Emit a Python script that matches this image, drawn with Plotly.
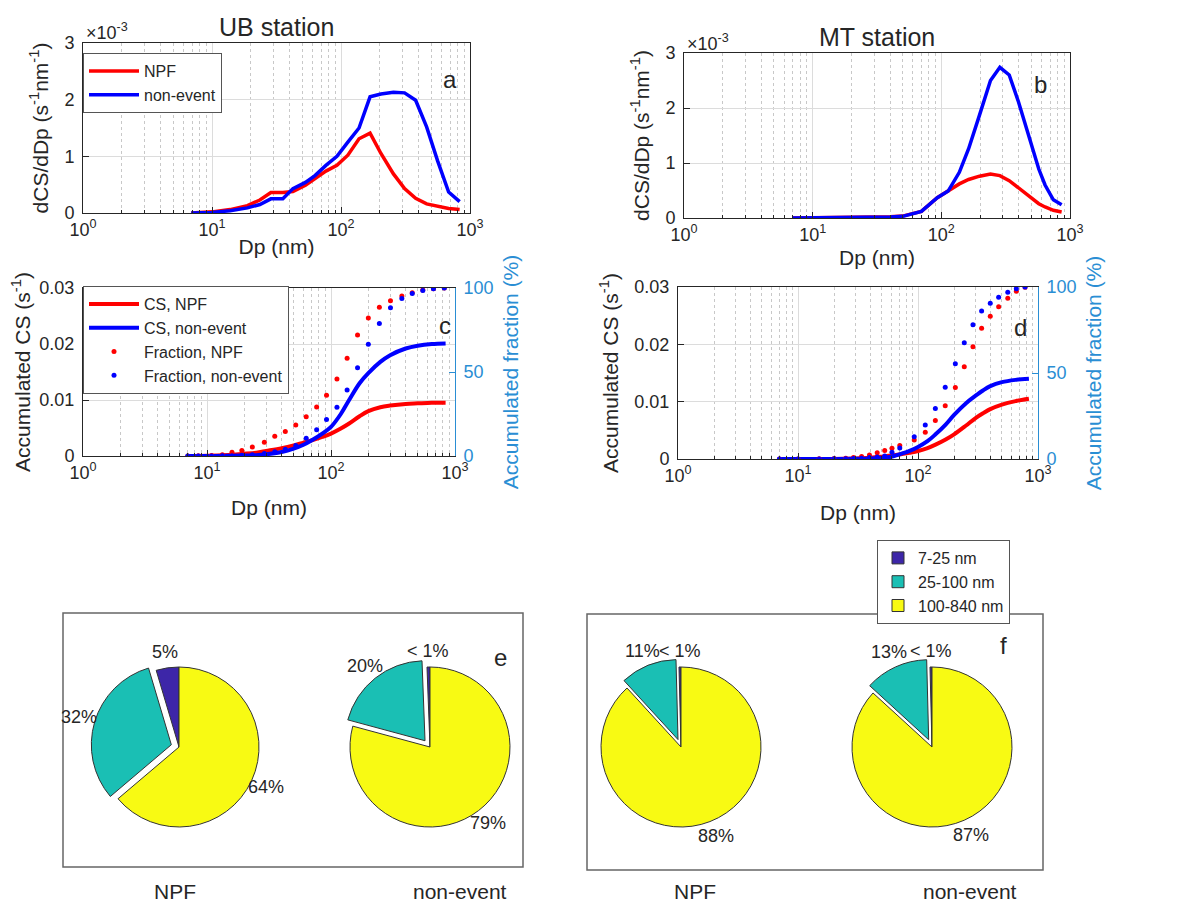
import math
import plotly.graph_objects as go

# ---------------- data ----------------
# Panel a (UB station) dCS/dDp, values in units of 1e-3 s^-1 nm^-1
ub_dp = [6.9, 10, 13.8, 18.8, 23.5, 28.6, 35.4, 42.4, 53, 62.8, 76.4, 93, 113, 138, 168, 204, 255, 311, 379, 461, 561, 683, 831]
ub_npf_dcs_e3 = [0, 0.02, 0.06, 0.13, 0.23, 0.36, 0.36, 0.38, 0.49, 0.6, 0.74, 0.84, 1.02, 1.31, 1.41, 1.05, 0.69, 0.43, 0.26, 0.16, 0.12, 0.08, 0.06]
ub_non_dcs_e3 = [0, 0.01, 0.04, 0.09, 0.15, 0.25, 0.25, 0.43, 0.54, 0.66, 0.84, 1.0, 1.25, 1.5, 2.05, 2.1, 2.13, 2.12, 1.99, 1.52, 0.92, 0.37, 0.2]

# Panel b (MT station)
mt_dp = [7, 10, 20, 30, 40, 50, 59, 70, 93, 113, 138, 163, 198, 241, 285, 337, 398, 484, 572, 640, 742, 861]
mt_npf_dcs_e3 = [0, 0.002, 0.01, 0.02, 0.025, 0.035, 0.07, 0.12, 0.37, 0.49, 0.62, 0.7, 0.76, 0.8, 0.77, 0.68, 0.55, 0.38, 0.26, 0.2, 0.14, 0.11]
mt_non_dcs_e3 = [0, 0.002, 0.01, 0.015, 0.02, 0.03, 0.07, 0.12, 0.37, 0.49, 0.83, 1.26, 1.87, 2.5, 2.74, 2.6, 2.11, 1.44, 0.89, 0.6, 0.33, 0.24]

# Panel c (UB) accumulated CS (s^-1) and accumulated fraction (%)
ub_cs_dp = [6.9, 10, 15, 20, 25, 30, 40, 50, 60, 70, 85, 100, 120, 140, 170, 200, 250, 300, 400, 500, 650, 840]
ub_npf_cs = [0, 0.00003, 0.0002, 0.0004, 0.0006, 0.0009, 0.0014, 0.0019, 0.0024, 0.0028, 0.0034, 0.0040, 0.0049, 0.0058, 0.0071, 0.0080, 0.0087, 0.0090, 0.0093, 0.0094, 0.0095, 0.0095]
ub_non_cs = [0, 0, 0.00004, 0.00008, 0.00015, 0.0003, 0.0007, 0.0013, 0.0020, 0.0028, 0.0040, 0.0052, 0.0075, 0.0100, 0.0130, 0.0148, 0.0168, 0.0180, 0.0192, 0.0197, 0.0200, 0.0201]
ub_frac_dp = [7.0, 8.5, 10.9, 13.3, 15.9, 19.1, 23.2, 29.0, 35.2, 42.8, 52.0, 63.1, 76.6, 92.0, 111.7, 134.9, 163.7, 200, 245.5, 301.7, 372.7, 452, 550, 670, 820]
ub_npf_frac = [0, 0.1, 0.3, 0.8, 2.3, 3.3, 5.3, 8.2, 11.7, 14.6, 18.5, 23.3, 29.2, 36.2, 45.9, 58.2, 72.0, 82.1, 88.5, 92.4, 95.3, 97.1, 98.8, 99.6, 100]
ub_non_frac = [0, 0, 0.05, 0.1, 0.2, 0.4, 0.7, 1.5, 2.5, 4.0, 6.3, 10.5, 15.6, 21.8, 29.0, 39.3, 52.5, 66.5, 78.8, 88.3, 93.8, 96.7, 98.5, 99.5, 100]

# Panel d (MT)
mt_cs_dp = [6.9, 10, 20, 30, 40, 50, 60, 70, 85, 100, 120, 140, 170, 200, 250, 300, 350, 400, 500, 650, 840]
mt_npf_cs = [0, 0, 0.00002, 0.00008, 0.0002, 0.0004, 0.0006, 0.0008, 0.0011, 0.0014, 0.0019, 0.0025, 0.0034, 0.0043, 0.0058, 0.0071, 0.0080, 0.0087, 0.0095, 0.0101, 0.0105]
mt_non_cs = [0, 0, 0.00001, 0.00004, 0.0001, 0.0002, 0.0004, 0.0008, 0.0014, 0.0021, 0.0031, 0.0043, 0.0060, 0.0077, 0.0097, 0.0110, 0.0120, 0.0127, 0.0134, 0.0138, 0.0140]
mt_frac_dp = [7, 10, 15, 20, 25, 29, 33.9, 39.4, 45.7, 52.8, 60.7, 70.5, 93, 115, 139.5, 168.6, 204.7, 243, 287, 339, 400, 470, 560, 660, 780]
mt_npf_frac = [0, 0, 0.1, 0.3, 0.5, 0.8, 1.4, 2.3, 3.7, 4.9, 6.2, 7.8, 11.1, 15.6, 22.4, 31, 41.5, 53.6, 65.3, 76, 83, 88.5, 93.5, 97.5, 99.8]
mt_non_frac = [0, 0, 0, 0.1, 0.2, 0.3, 0.5, 0.8, 1.2, 1.8, 3.9, 6.4, 12.9, 19.7, 29.4, 41.7, 55.4, 67.6, 78.1, 86, 90.5, 94, 97, 99, 100]

# Pies (e: UB, f: MT) fraction of CS by size range (%)
size_ranges = ["7-25 nm", "25-100 nm", "100-840 nm"]
ub_npf_pie = [4.6, 31.6, 63.8]
ub_npf_pie_text = ["5%", "32%", "64%"]
ub_non_pie = [0.6, 20.2, 79.2]
ub_non_pie_text = ["< 1%", "20%", "79%"]
mt_npf_pie = [0.4, 11.4, 88.2]
mt_npf_pie_text = ["< 1%", "11%", "88%"]
mt_non_pie = [0.4, 12.8, 86.8]
mt_non_pie_text = ["< 1%", "13%", "87%"]
pie_pull = [0, 0.1, 0]

x_tickvals = [1, 10, 100, 1000]
x_ticktext = ["10<sup>0</sup>", "10<sup>1</sup>", "10<sup>2</sup>", "10<sup>3</sup>"]

# ---------------- styling ----------------
PAGE_OFF = 8                      # browser body margin
W, H = 1185 - PAGE_OFF, 905 - PAGE_OFF
FONT = "Liberation Sans, Arial, Helvetica, sans-serif"
AX = "#262626"
RBLUE = "#2A8ED4"
RED = "#FF0000"
BLUE = "#0000FF"
PIE_COLORS = ["#3D26A8", "#1ABFB4", "#F8FA13"]


def fx(px):
    return (px - PAGE_OFF) / W


def fy(py):
    return 1 - (py - PAGE_OFF) / H


fig = go.Figure()

# panel a
fig.add_trace(go.Scatter(x=ub_dp, y=[v * 1e-3 for v in ub_npf_dcs_e3], mode="lines",
                         line=dict(color=RED, width=3.5), name="NPF", xaxis="x", yaxis="y", legend="legend"))
fig.add_trace(go.Scatter(x=ub_dp, y=[v * 1e-3 for v in ub_non_dcs_e3], mode="lines",
                         line=dict(color=BLUE, width=3.5), name="non-event", xaxis="x", yaxis="y", legend="legend"))
# panel b
fig.add_trace(go.Scatter(x=mt_dp, y=[v * 1e-3 for v in mt_npf_dcs_e3], mode="lines",
                         line=dict(color=RED, width=3.5), showlegend=False, xaxis="x2", yaxis="y2"))
fig.add_trace(go.Scatter(x=mt_dp, y=[v * 1e-3 for v in mt_non_dcs_e3], mode="lines",
                         line=dict(color=BLUE, width=3.5), showlegend=False, xaxis="x2", yaxis="y2"))
# panel c
fig.add_trace(go.Scatter(x=ub_cs_dp, y=ub_npf_cs, mode="lines", line=dict(color=RED, width=4, shape="spline"),
                         name="CS, NPF", xaxis="x3", yaxis="y3", legend="legend2"))
fig.add_trace(go.Scatter(x=ub_cs_dp, y=ub_non_cs, mode="lines", line=dict(color=BLUE, width=4, shape="spline"),
                         name="CS, non-event", xaxis="x3", yaxis="y3", legend="legend2"))
fig.add_trace(go.Scatter(x=ub_frac_dp, y=ub_npf_frac, mode="markers", marker=dict(color=RED, size=5),
                         name="Fraction, NPF", xaxis="x3", yaxis="y4", legend="legend2"))
fig.add_trace(go.Scatter(x=ub_frac_dp, y=ub_non_frac, mode="markers", marker=dict(color=BLUE, size=5),
                         name="Fraction, non-event", xaxis="x3", yaxis="y4", legend="legend2"))
# panel d
fig.add_trace(go.Scatter(x=mt_cs_dp, y=mt_npf_cs, mode="lines", line=dict(color=RED, width=4, shape="spline"),
                         showlegend=False, xaxis="x4", yaxis="y5"))
fig.add_trace(go.Scatter(x=mt_cs_dp, y=mt_non_cs, mode="lines", line=dict(color=BLUE, width=4, shape="spline"),
                         showlegend=False, xaxis="x4", yaxis="y5"))
fig.add_trace(go.Scatter(x=mt_frac_dp, y=mt_npf_frac, mode="markers", marker=dict(color=RED, size=5),
                         showlegend=False, xaxis="x4", yaxis="y6"))
fig.add_trace(go.Scatter(x=mt_frac_dp, y=mt_non_frac, mode="markers", marker=dict(color=BLUE, size=5),
                         showlegend=False, xaxis="x4", yaxis="y6"))

# pies
R = 80
MAXPULL = max(pie_pull)


def pie_domain(cx, cy):
    half = R * (1 + MAXPULL)
    return dict(x=[fx(cx - half), fx(cx + half)], y=[fy(cy + half), fy(cy - half)])


pies = [
    (ub_npf_pie, ub_npf_pie_text, 179, 747, True),
    (ub_non_pie, ub_non_pie_text, 430, 747, False),
    (mt_npf_pie, mt_npf_pie_text, 681, 747, False),
    (mt_non_pie, mt_non_pie_text, 932, 747, False),
]
pie_label_annos = []
for vals, txt, cx, cy, sl in pies:
    tot = sum(vals)
    # first slice ends at 12 o'clock, slices run counter-clockwise (MATLAB pie convention)
    rot = -360.0 * vals[0] / tot
    fig.add_trace(go.Pie(labels=size_ranges, values=vals, textinfo="none",
                         sort=False, direction="counterclockwise", rotation=rot, pull=pie_pull,
                         marker=dict(colors=PIE_COLORS, line=dict(color="#333333", width=1)),
                         domain=pie_domain(cx, cy), showlegend=sl, legend="legend3",
                         hoverinfo="label+percent"))
    # MATLAB-style percentage labels: centred at 1.2 R along each slice's mid angle
    cum = 0.0
    for v, t, p in zip(vals, txt, pie_pull):
        a0 = 90 + 360.0 * cum / tot
        a1 = a0 + 360.0 * v / tot
        mid = math.radians((a0 + a1) / 2)
        dist = R * (1.2 + p)
        pie_label_annos.append((t, cx + dist * math.cos(mid), cy - dist * math.sin(mid)))
        cum += v

common_x = dict(type="log", range=[0, 3], tickmode="array", tickvals=x_tickvals, ticktext=x_ticktext,
                ticks="inside", ticklen=6, tickcolor=AX, showline=True, linecolor=AX, linewidth=1,
                showgrid=True, gridcolor="#dcdcdc", gridwidth=1, zeroline=False,
                minor=dict(dtick="D1", showgrid=True, gridcolor="#c8c8c8", griddash="dot", ticks="inside",
                           ticklen=3, tickcolor=AX),
                tickfont=dict(size=18, color=AX, family=FONT))


def xtitle(standoff):
    return dict(text="Dp (nm)", font=dict(size=21, color=AX, family=FONT), standoff=standoff)


common_y = dict(ticks="inside", ticklen=6, tickcolor=AX, showline=True, linecolor=AX, linewidth=1,
                showgrid=True, gridcolor="#dcdcdc", zeroline=False,
                tickfont=dict(size=18, color=AX, family=FONT), ticklabelstandoff=4)

right_y = dict(range=[0, 100], tickmode="array", tickvals=[0, 50, 100], ticks="inside", ticklen=6,
               tickcolor=RBLUE, showline=True, linecolor=RBLUE, linewidth=1, showgrid=False, zeroline=False,
               tickfont=dict(size=18, color=RBLUE, family=FONT), ticklabelstandoff=4,
               title=dict(text="Accumulated fraction (%)", font=dict(size=21, color=RBLUE), standoff=10))

fig.update_layout(
    width=W, height=H, margin=dict(l=0, r=0, t=0, b=0, autoexpand=False),
    paper_bgcolor="white", plot_bgcolor="white",
    font=dict(family=FONT, color=AX),
    xaxis=dict(common_x, domain=[fx(83), fx(470)], anchor="y", mirror=True, title=xtitle(0)),
    yaxis=dict(common_y, domain=[fy(213), fy(43)], anchor="x", mirror=True, range=[0, 3e-3],
               tickmode="array", tickvals=[0, 1e-3, 2e-3, 3e-3], ticktext=["0", "1", "2", "3"],
               title=dict(text="dCS/dDp (s<sup>-1</sup>nm<sup>-1</sup>)", font=dict(size=21, color=AX), standoff=10)),
    xaxis2=dict(common_x, domain=[fx(684), fx(1070)], anchor="y2", mirror=True, title=xtitle(6)),
    yaxis2=dict(common_y, domain=[fy(218), fy(53)], anchor="x2", mirror=True, range=[0, 3e-3],
                tickmode="array", tickvals=[0, 1e-3, 2e-3, 3e-3], ticktext=["0", "1", "2", "3"],
                title=dict(text="dCS/dDp (s<sup>-1</sup>nm<sup>-1</sup>)", font=dict(size=21, color=AX), standoff=10)),
    xaxis3=dict(common_x, domain=[fx(83), fx(455)], anchor="y3", mirror=True, title=xtitle(18)),
    yaxis3=dict(common_y, domain=[fy(456), fy(288)], anchor="x3", mirror=False, range=[0, 0.03],
                tickmode="array", tickvals=[0, 0.01, 0.02, 0.03], ticktext=["0", "0.01", "0.02", "0.03"],
                title=dict(text="Accumulated CS (s<sup>-1</sup>)", font=dict(size=21, color=AX), standoff=10)),
    yaxis4=dict(right_y, overlaying="y3", side="right", anchor="x3"),
    xaxis4=dict(common_x, domain=[fx(678), fx(1038)], anchor="y5", mirror=True, title=xtitle(20)),
    yaxis5=dict(common_y, domain=[fy(459), fy(287)], anchor="x4", mirror=False, range=[0, 0.03],
                tickmode="array", tickvals=[0, 0.01, 0.02, 0.03], ticktext=["0", "0.01", "0.02", "0.03"],
                title=dict(text="Accumulated CS (s<sup>-1</sup>)", font=dict(size=21, color=AX), standoff=10)),
    yaxis6=dict(right_y, overlaying="y5", side="right", anchor="x4"),
    legend=dict(x=fx(83), y=fy(53), xanchor="left", yanchor="top", bgcolor="white",
                bordercolor="#555555", borderwidth=1, font=dict(size=16, color=AX), itemwidth=50,
                tracegroupgap=0),
    legend2=dict(x=fx(83), y=fy(286), xanchor="left", yanchor="top", bgcolor="white",
                 bordercolor="#555555", borderwidth=1, font=dict(size=16, color=AX), itemwidth=50),
    legend3=dict(x=fx(877), y=fy(540), xanchor="left", yanchor="top", bgcolor="white",
                 bordercolor="#555555", borderwidth=1, font=dict(size=16, color=AX), traceorder="normal"),
)

annos = [
    ("UB station", 276, 27, 25, "center"),
    ("MT station", 877, 37, 25, "center"),
    ("×10<sup>-3</sup>", 84, 32, 18, "left"),
    ("×10<sup>-3</sup>", 685, 42, 18, "left"),
    ("a", 450, 80, 24, "center"),
    ("b", 1040, 85, 24, "center"),
    ("c", 445, 325, 24, "center"),
    ("d", 1020, 327, 24, "center"),
    ("e", 500, 657, 24, "center"),
    ("f", 1003, 645, 24, "center"),
    ("NPF", 175, 891, 21, "center"),
    ("non-event", 460, 891, 21, "center"),
    ("NPF", 695, 891, 21, "center"),
    ("non-event", 970, 891, 21, "center"),
]
for t, x, y, s, al in annos:
    fig.add_annotation(text=t, x=fx(x), y=fy(y), xref="paper", yref="paper", showarrow=False,
                       xanchor=al, yanchor="middle", font=dict(size=s, color=AX, family=FONT))

for t, x, y in pie_label_annos:
    fig.add_annotation(text=t, x=fx(x), y=fy(y), xref="paper", yref="paper", showarrow=False,
                       xanchor="center", yanchor="middle", font=dict(size=18, color=AX, family=FONT))

for x0, y0, x1, y1 in [(63, 613, 523, 867), (587, 614, 1043, 870)]:
    fig.add_shape(type="rect", xref="paper", yref="paper", x0=fx(x0), x1=fx(x1), y0=fy(y1), y1=fy(y0),
                  line=dict(color="#666666", width=1.5), fillcolor="rgba(0,0,0,0)", layer="below")

fig.write_html("out.html")
